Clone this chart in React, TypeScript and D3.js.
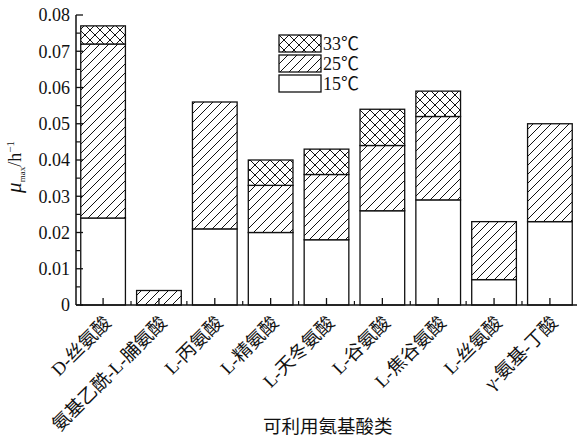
import React from "react";
import * as d3 from "d3";

// Amino acid substrates (x categories)
const categories = [
  "D-丝氨酸",
  "氨基乙酰-L-脯氨酸",
  "L-丙氨酸",
  "L-精氨酸",
  "L-天冬氨酸",
  "L-谷氨酸",
  "L-焦谷氨酸",
  "L-丝氨酸",
  "γ-氨基-丁酸",
];

// Stacked increments of μmax (h⁻¹) per temperature
const series15 = [0.024, 0, 0.021, 0.020, 0.018, 0.026, 0.029, 0.007, 0.023];
const series25 = [0.048, 0.004, 0.035, 0.013, 0.018, 0.018, 0.023, 0.016, 0.027];
const series33 = [0.005, 0, 0, 0.007, 0.007, 0.010, 0.007, 0, 0];

const seriesKeys = ["15℃", "25℃", "33℃"];
const yTicks = [0, 0.01, 0.02, 0.03, 0.04, 0.05, 0.06, 0.07, 0.08];
const yTickLabels = ["0", "0.01", "0.02", "0.03", "0.04", "0.05", "0.06", "0.07", "0.08"];
const legendOrder = ["33℃", "25℃", "15℃"];

const W = 577;
const H = 442;
const M = { left: 76, right: 577, top: 15, bottom: 305 };
const FONT = "'Liberation Serif', 'Noto Sans CJK SC', serif";
const CJK = "'Noto Sans CJK SC', 'Liberation Serif', serif";

const fills: Record<string, string> = {
  "15℃": "#ffffff",
  "25℃": "url(#hatch25)",
  "33℃": "url(#hatch33)",
};

export default function App() {
  const rows = categories.map((c, i) => ({
    cat: c,
    "15℃": series15[i],
    "25℃": series25[i],
    "33℃": series33[i],
  }));
  const stacked = d3.stack<any>().keys(seriesKeys)(rows);

  const x = d3
    .scaleBand<string>()
    .domain(categories)
    .range([M.left, M.right])
    .paddingInner(0.2)
    .paddingOuter(0.085);
  const y = d3.scaleLinear().domain([0, 0.08]).range([M.bottom, M.top]);

  const minorY = d3.range(0.005, 0.08, 0.01);
  const step = x.step();
  const boundaries = categories.slice(1).map((c) => (x(c) as number) - (step * 0.2) / 2);

  return (
    <div style={{ position: "absolute", left: 0, top: 0 }}>
      <svg width={W} height={H} style={{ display: "block", background: "#fff" }}>
        <defs>
          <pattern id="hatch25" patternUnits="userSpaceOnUse" width={9} height={9}>
            <rect width={9} height={9} fill="#fff" />
            <path d="M0,9 L9,0 M-2,2 L2,-2 M7,11 L11,7" stroke="#111" strokeWidth={1} />
          </pattern>
          <pattern id="hatch33" patternUnits="userSpaceOnUse" width={10} height={10}>
            <rect width={10} height={10} fill="#fff" />
            <path
              d="M0,10 L10,0 M-2,2 L2,-2 M8,12 L12,8 M0,0 L10,10 M-2,8 L2,12 M8,-2 L12,2"
              stroke="#111"
              strokeWidth={1}
            />
          </pattern>
        </defs>

        {/* stacked bars */}
        {stacked.map((layer) => (
          <g key={layer.key}>
            {layer.map((d, i) => {
              const h = y(d[0]) - y(d[1]);
              if (h <= 0.01) return null;
              return (
                <rect
                  key={i}
                  x={x(categories[i])}
                  y={y(d[1])}
                  width={x.bandwidth()}
                  height={h}
                  fill={fills[layer.key]}
                  stroke="#111"
                  strokeWidth={1.3}
                />
              );
            })}
          </g>
        ))}

        {/* y axis */}
        <line x1={M.left} x2={M.left} y1={M.top} y2={M.bottom} stroke="#111" strokeWidth={1.5} />
        {yTicks.map((t, i) => (
          <g key={t}>
            <line x1={M.left} x2={M.left + 7} y1={y(t)} y2={y(t)} stroke="#111" strokeWidth={1.3} />
            <text
              x={70}
              y={y(t)}
              dy="0.35em"
              textAnchor="end"
              fontFamily={FONT}
              fontSize={18}
              fill="#111"
            >
              {yTickLabels[i]}
            </text>
          </g>
        ))}
        {minorY.map((t) => (
          <line key={t} x1={M.left} x2={M.left + 4} y1={y(t)} y2={y(t)} stroke="#111" strokeWidth={1.2} />
        ))}

        {/* x axis */}
        <line x1={M.left} x2={M.right} y1={M.bottom} y2={M.bottom} stroke="#111" strokeWidth={1.5} />
        {categories.map((c) => {
          const cx = (x(c) as number) + x.bandwidth() / 2;
          return (
            <g key={c}>
              <line x1={cx} x2={cx} y1={M.bottom} y2={M.bottom - 7} stroke="#111" strokeWidth={1.3} />
              <text
                transform={`translate(${cx + 9},${M.bottom + 19}) rotate(-45)`}
                textAnchor="end"
                fontFamily={FONT}
                fontSize={18.5}
                fill="#111"
              >
                {c}
              </text>
            </g>
          );
        })}
        {boundaries.map((b, i) => (
          <line key={i} x1={b} x2={b} y1={M.bottom} y2={M.bottom - 4} stroke="#111" strokeWidth={1.2} />
        ))}

        {/* axis titles */}
        <text
          x={263}
          y={433}
          fontFamily={CJK}
          fontSize={18.5}
          fill="#111"
        >
          可利用氨基酸类
        </text>
        <text
          transform={`translate(21,167) rotate(-90)`}
          textAnchor="middle"
          fontFamily={FONT}
          fill="#111"
        >
          <tspan fontSize={21} fontStyle="italic">μ</tspan>
          <tspan fontSize={9} dy={4}>max</tspan>
          <tspan fontSize={18} dy={-4}>/h</tspan>
          <tspan fontSize={11} dy={-7}>−1</tspan>
        </text>

        {/* legend */}
        {legendOrder.map((k, i) => (
          <g key={k} transform={`translate(279,${35 + i * 20})`}>
            <rect width={42} height={17} fill={fills[k]} stroke="#111" strokeWidth={1.3} />
            <text x={44} y={8.5} dy="0.36em" fontFamily={FONT} fontSize={18} fill="#111">
              {k}
            </text>
          </g>
        ))}
      </svg>
    </div>
  );
}
